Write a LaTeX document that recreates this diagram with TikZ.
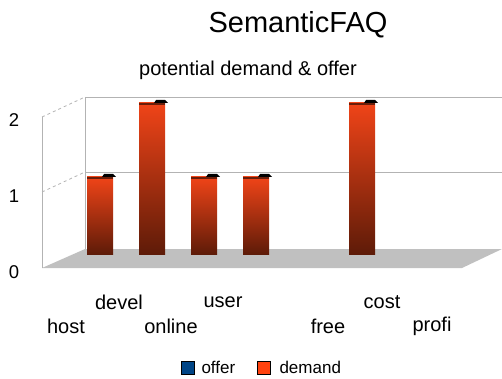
\documentclass[tikz,border=0pt]{standalone}
\usepackage{fontspec}
\setmainfont{Liberation Sans}
\usepackage{xcolor}
\usepackage{tikz}
\usetikzlibrary{calc}
\definecolor{grid}{HTML}{B3B3B3}
\definecolor{floor}{HTML}{C0C0C0}
\definecolor{offer}{HTML}{004586}
\definecolor{demand}{HTML}{FF420E}
\definecolor{barhi}{HTML}{F04418}
\definecolor{barlo}{HTML}{5E1B08}
\definecolor{barcap}{HTML}{6A1E0A}
\tikzset{
  wall/.style={draw=grid, line width=0.8pt},
  side/.style={draw=grid, dashed, line width=0.8pt},
  tick/.style={font=\fontsize{18.5}{18.5}\selectfont, anchor=center},
  cat/.style={font=\fontsize{20}{20}\selectfont, anchor=center},
  key/.style={draw=black, line width=0.4pt, minimum size=13pt, inner sep=0pt},
  keytext/.style={font=\fontsize{17}{17}\selectfont, anchor=west},
}
\begin{document}
\begin{tikzpicture}[x=1pt, y=-1pt]
  \useasboundingbox (0,0) rectangle (502,379);
  \def\base{254}
  \def\bw{26}

  % back wall and floor
  \fill[floor] (42,268) -- (462,268) -- (502,249) -- (85,249) -- cycle;
  \draw[wall] (85,97) -- (502,97);
  \draw[wall] (85,172) -- (502,172);
  \draw[wall] (85,97) -- (85,249);
  \draw[wall] (42,117) -- (42,268);
  \draw[side] (42,117) -- (85,97);
  \draw[side] (42,192) -- (85,172);

  % bars (demand)
  \foreach \xa/\top in {87/177, 139/103, 191/177, 243/177, 349/103}{
    \shade[top color=barhi, bottom color=barlo] (\xa,\base) rectangle (\xa+\bw,\top);
    \draw[barcap, line width=1.6pt] (\xa,\top+0.8) -- (\xa+\bw,\top+0.8);
    \fill[black] (\xa+15,\top) -- (\xa+\bw+3,\top) -- (\xa+\bw,\top-3) -- (\xa+17,\top-3) -- cycle;
  }

  % titles
  \node[font=\fontsize{29}{29}\selectfont] (title) at (298,25) {SemanticFAQ};
  \node[font=\fontsize{20}{20}\selectfont] (subtitle) at (248,70) {potential demand \& offer};

  % value axis
  \node[tick] (t2) at (14,120) {2};
  \node[tick] (t1) at (14,196) {1};
  \node[tick] (t0) at (14,272) {0};

  % categories
  \node[cat] (host) at (66,326) {host};
  \node[cat] (devel) at (119,302) {devel};
  \node[cat] (online) at (171,326) {online};
  \node[cat] (user) at (223,302) {user};
  \node[cat] (free) at (328,326) {free};
  \node[cat] (cost) at (382,302) {cost};
  \node[cat] (profi) at (432,326) {profi};

  % legend
  \node[key, fill=offer] (koffer) at (187.5,368) {};
  \node[keytext] (loffer) at (198,367) {offer};
  \node[key, fill=demand] (kdemand) at (264,368) {};
  \node[keytext] (ldemand) at (276,367) {demand};
\end{tikzpicture}
\end{document}
